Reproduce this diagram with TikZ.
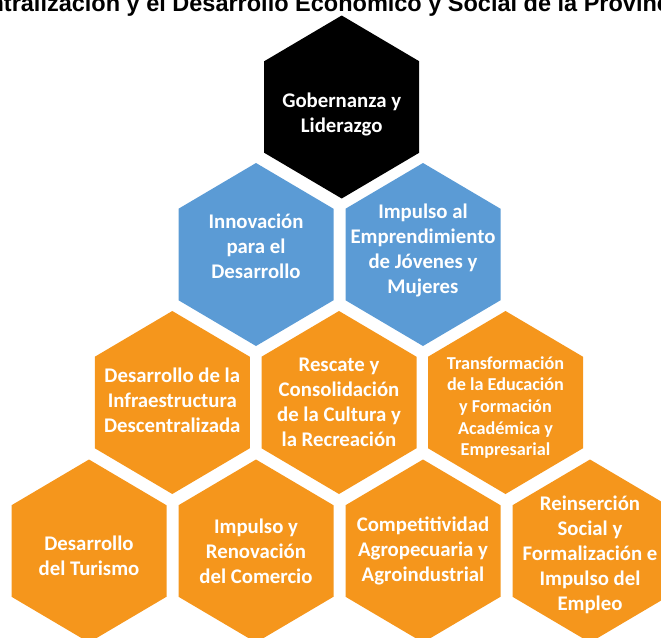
\documentclass[tikz,border=0pt]{standalone}
\usepackage{fontspec}
\setmainfont{Carlito}
\newfontfamily\titlefont{Liberation Sans}
\usetikzlibrary{calc}

\definecolor{hexblue}{HTML}{5B9BD5}
\definecolor{hexorange}{HTML}{F5961C}

\tikzset{
	hexlabel/.style={text=white, font=\bfseries\fontsize{20.8}{25}\selectfont, align=center, inner sep=0pt},
	smalllabel/.style={hexlabel, font=\bfseries\fontsize{18.2}{21.7}\selectfont},
	titlelabel/.style={font=\titlefont\bfseries\fontsize{23.5}{27}\selectfont, anchor=base, inner sep=0pt},
}

\newcommand{\hexcell}[6]{%
	\fill[#4] (#2,#3) +(0,-91.5) -- +(77.5,-45.75) -- +(77.5,45.75) -- +(0,91.5) -- +(-77.5,45.75) -- +(-77.5,-45.75) -- cycle;
	\node[#5] (#1) at (#2,#3) {#6};
}

\begin{document}
\begin{tikzpicture}[x=1pt, y=-1pt]
	\useasboundingbox (0,0) rectangle (661,637);
	\clip (0,0) rectangle (661,637);
	\node[titlelabel] (title) at (305,11) {Descentralización y el Desarrollo Económico y Social de la Provincia};
	% vertice
	\hexcell{gob}{341.7}{107}{black}{hexlabel, yshift=-7pt}{Gobernanza y\\Liderazgo}
	% segunda fila
	\hexcell{inno}{256}{254.5}{hexblue}{hexlabel, yshift=8pt}{Innovación\\para el\\Desarrollo}
	\hexcell{empr}{423}{254.5}{hexblue}{hexlabel, yshift=4pt}{Impulso al\\Emprendimiento\\de Jóvenes y\\Mujeres}
	% tercera fila
	\hexcell{infra}{172.3}{402.5}{hexorange}{hexlabel, yshift=2pt}{Desarrollo de la\\Infraestructura\\Descentralizada}
	\hexcell{cult}{339}{402.5}{hexorange}{hexlabel}{Rescate y\\Consolidación\\de la Cultura y\\la Recreación}
	\hexcell{educ}{505.5}{402.5}{hexorange}{smalllabel, yshift=-5pt}{Transformación\\de la Educación\\y Formación\\Académica y\\Empresarial}
	% base
	\hexcell{tur}{89}{551}{hexorange}{hexlabel, yshift=-5pt}{Desarrollo\\del Turismo}
	\hexcell{com}{256}{551}{hexorange}{hexlabel}{Impulso y\\Renovación\\del Comercio}
	\hexcell{agro}{423}{551}{hexorange}{hexlabel}{Competitividad\\Agropecuaria y\\Agroindustrial}
	\hexcell{empleo}{590}{551}{hexorange}{hexlabel, yshift=-4pt}{Reinserción\\Social y\\Formalización e\\Impulso del\\Empleo}
\end{tikzpicture}
\end{document}
